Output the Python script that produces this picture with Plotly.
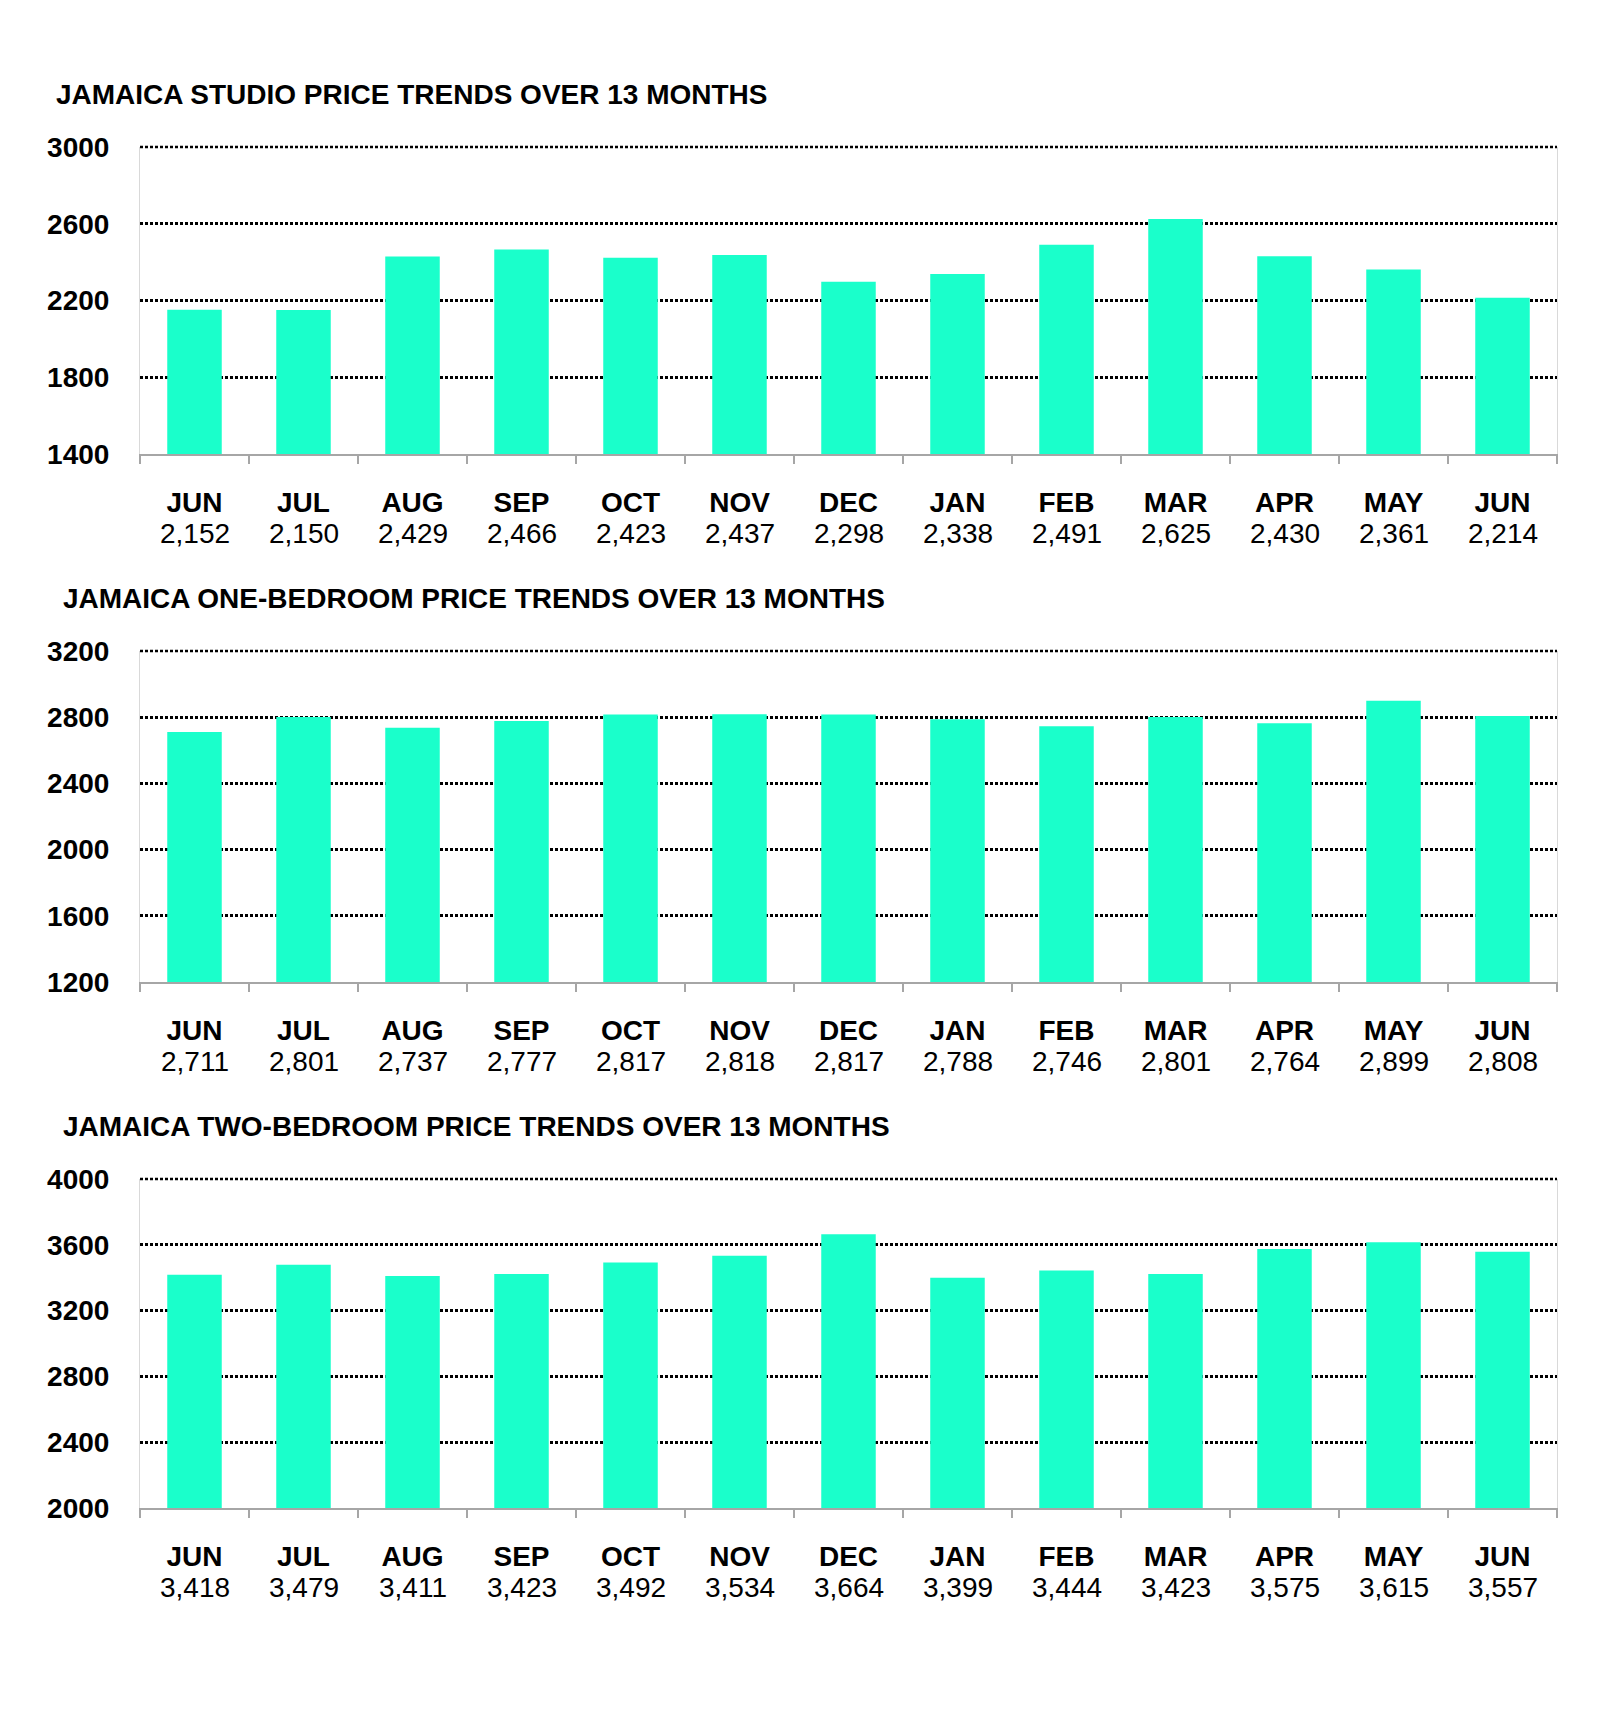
import plotly.graph_objects as go

months = ["JUN", "JUL", "AUG", "SEP", "OCT", "NOV", "DEC", "JAN", "FEB", "MAR", "APR", "MAY", "JUN"]
keys = [f"{m}-{i}" for i, m in enumerate(months)]

studio = [2152, 2150, 2429, 2466, 2423, 2437, 2298, 2338, 2491, 2625, 2430, 2361, 2214]
one_bed = [2711, 2801, 2737, 2777, 2817, 2818, 2817, 2788, 2746, 2801, 2764, 2899, 2808]
two_bed = [3418, 3479, 3411, 3423, 3492, 3534, 3664, 3399, 3444, 3423, 3575, 3615, 3557]

titles = [
    "JAMAICA STUDIO PRICE TRENDS OVER 13 MONTHS",
    "JAMAICA ONE-BEDROOM PRICE TRENDS OVER 13 MONTHS",
    "JAMAICA TWO-BEDROOM PRICE TRENDS OVER 13 MONTHS",
]
y_ranges = [(1400, 3000), (1200, 3200), (2000, 4000)]
y_ticks = [
    [1400, 1800, 2200, 2600, 3000],
    [1200, 1600, 2000, 2400, 2800, 3200],
    [2000, 2400, 2800, 3200, 3600, 4000],
]
series = [studio, one_bed, two_bed]

W, H = 1600, 1709
FONT = "Liberation Sans"
BAR = "#1AFFCB"
OFF = 8  # page body margin
DOT = "3px,2px"

# pixel layout (top, bottom) of each plot area in the final picture
areas = [(147, 454), (651, 982), (1179, 1508)]
title_pos = [(54, 95), (61, 598), (61, 1126)]
x_left, x_right = 140, 1557

def px_x(p):
    return (p - OFF) / W

def px_y(p):
    return 1 - (p - OFF) / H

fig = go.Figure()
layout = dict(
    width=W, height=H, margin=dict(l=0, r=0, t=0, b=0, autoexpand=False),
    paper_bgcolor="white", plot_bgcolor="white", showlegend=False,
    bargap=0.5, annotations=[], shapes=[],
)

for i, vals in enumerate(series):
    n = "" if i == 0 else str(i + 1)
    fig.add_trace(go.Bar(
        x=keys, y=vals, marker=dict(color=BAR, line=dict(width=0)),
        xaxis="x" + n, yaxis="y" + n, hoverinfo="x+y",
    ))
    top, bot = areas[i]
    layout["xaxis" + n] = dict(
        domain=[px_x(x_left), px_x(x_right)], anchor="y" + n, automargin=False,
        type="category", tickmode="array", tickvals=keys, ticktext=months,
        tickson="boundaries", ticks="outside", ticklen=8, tickwidth=2, tickcolor="#a6a6a6",
        showline=True, linecolor="#a6a6a6", linewidth=2, showgrid=False,
        tickfont=dict(family=FONT, size=28, color="black", weight="bold"),
        ticklabelstandoff=22, range=[-0.5, 12.5], fixedrange=True,
    )
    layout["yaxis" + n] = dict(
        domain=[px_y(bot), px_y(top)], anchor="x" + n, automargin=False,
        range=list(y_ranges[i]), tickmode="array", tickvals=y_ticks[i],
        ticktext=[str(t) for t in y_ticks[i]],
        showgrid=True, gridcolor="black", gridwidth=2.5, griddash=DOT,
        zeroline=False, showline=True, mirror=True, linecolor="#d9d9d9", linewidth=1,
        ticks="", tickfont=dict(family=FONT, size=28, color="black", weight="bold"),
        ticklabelstandoff=24, fixedrange=True,
    )
    # top gridline at the top of the value range (plotly hides edge gridlines);
    # domain references keep it unclipped
    layout["shapes"].append(dict(
        type="line", xref=("x" + n) + " domain", yref=("y" + n) + " domain",
        x0=0, x1=1, y0=1, y1=1, layer="below",
        line=dict(color="black", width=2.5, dash=DOT),
    ))
    # title
    tx, ty = title_pos[i]
    layout["annotations"].append(dict(
        text=titles[i], xref="paper", yref="paper", x=px_x(tx), y=px_y(ty),
        xanchor="left", yanchor="middle", showarrow=False,
        font=dict(family=FONT, size=28, color="black", weight="bold"),
    ))
    # value labels under month names
    for k, v in zip(keys, vals):
        layout["annotations"].append(dict(
            text=f"{v:,}", xref="x" + n, yref="paper", x=k, y=px_y(bot + 79),
            xanchor="center", yanchor="middle", showarrow=False,
            font=dict(family=FONT, size=28, color="black"),
        ))

fig.update_layout(**layout)
fig.write_html("out.html")
